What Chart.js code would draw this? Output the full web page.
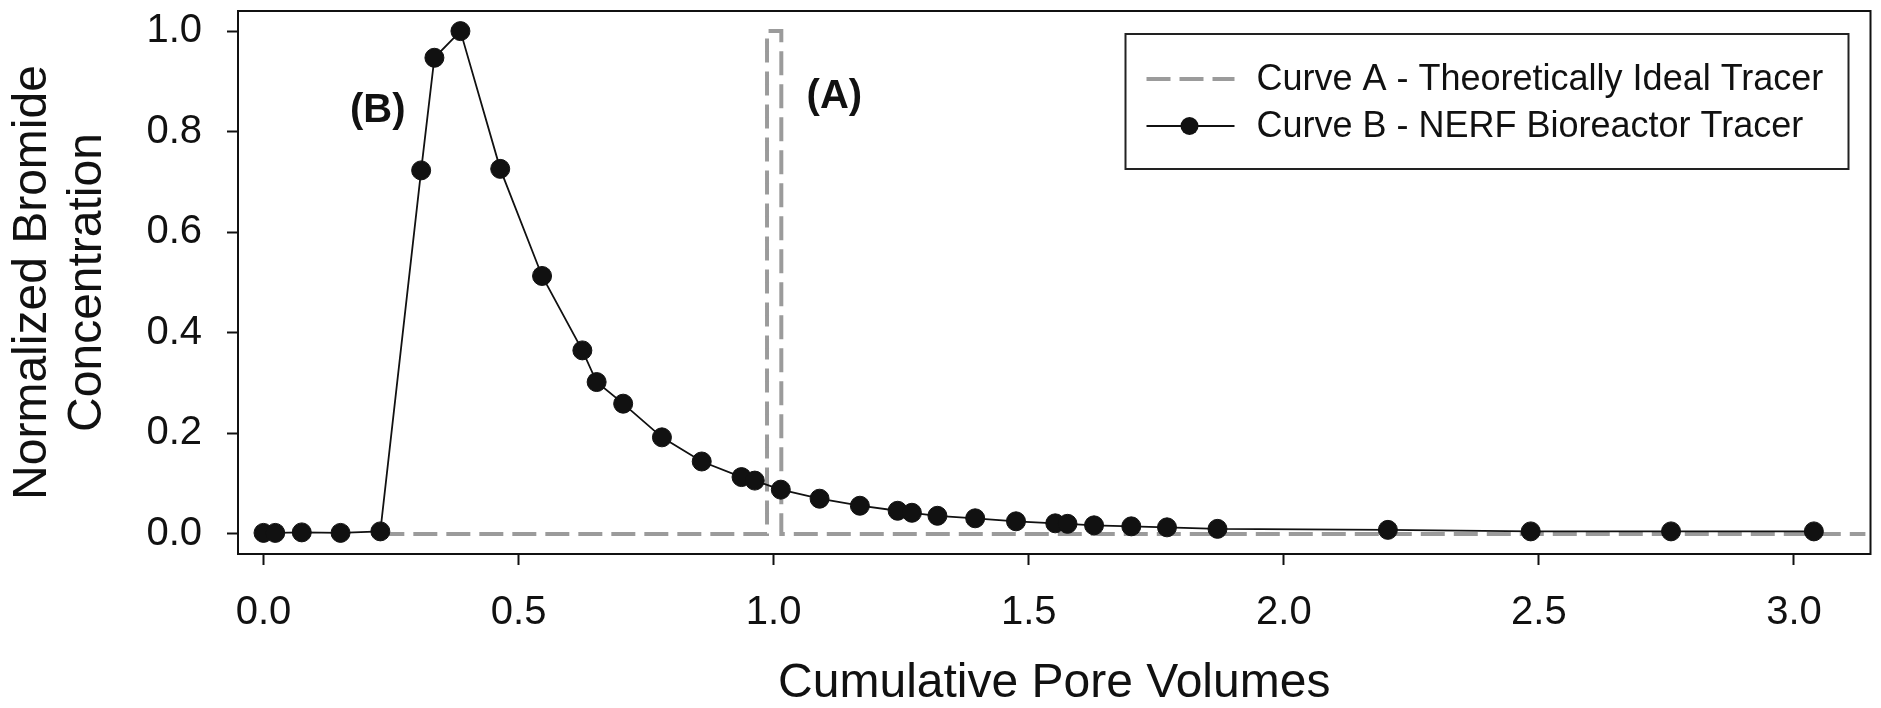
<!DOCTYPE html>
<html><head><meta charset="utf-8">
<script src="https://cdn.jsdelivr.net/npm/chart.js@4.4.1/dist/chart.umd.min.js"></script>
<style>html,body{margin:0;padding:0;background:#fff}#wrap{width:1881px;height:708px;position:relative}</style>
</head><body><div id="wrap"><canvas id="c"></canvas></div>
<script>
// ---- data ----
const curveALabel = 'Curve A - Theoretically Ideal Tracer';
const curveAX = [0.229, 0.987, 0.987, 1.015, 1.015, 3.14];
const curveAY = [0, 0, 1.0, 1.0, 0, 0];
const curveBLabel = 'Curve B - NERF Bioreactor Tracer';
const curveBX = [0.000, 0.023, 0.075, 0.151, 0.229, 0.309, 0.335, 0.386, 0.464, 0.546, 0.625, 0.653, 0.705, 0.781, 0.859, 0.937, 0.963, 1.014, 1.090, 1.169, 1.243, 1.271, 1.321, 1.395, 1.475, 1.552, 1.576, 1.628, 1.701, 1.771, 1.870, 2.204, 2.484, 2.759, 3.039];
const curveBY = [0.002, 0.002, 0.003, 0.002, 0.005, 0.723, 0.947, 1.000, 0.726, 0.513, 0.365, 0.302, 0.259, 0.192, 0.144, 0.113, 0.106, 0.088, 0.070, 0.056, 0.046, 0.042, 0.036, 0.031, 0.025, 0.021, 0.020, 0.017, 0.015, 0.013, 0.010, 0.008, 0.005, 0.005, 0.005];
const xTickValues = [0, 0.5, 1.0, 1.5, 2.0, 2.5, 3.0];
const xTickLabels = ['0.0', '0.5', '1.0', '1.5', '2.0', '2.5', '3.0'];
const yTickValues = [0, 0.2, 0.4, 0.6, 0.8, 1.0];
const yTickLabels = ['0.0', '0.2', '0.4', '0.6', '0.8', '1.0'];
const xTitle = 'Cumulative Pore Volumes';
const yTitle = ['Normalized Bromide', 'Concentration'];
const noteLabels = ['(A)', '(B)'];
const noteX = [1.119, 0.224];
const noteY = [0.870, 0.841];

const FONT = "'Liberation Sans', Arial, sans-serif";
const INK = '#111';
const GRAY = '#9b9b9b';

const frameAndNotes = {
  id: 'frameAndNotes',
  afterDatasetsDraw(chart) {
    const ctx = chart.ctx, a = chart.chartArea;
    const xs = chart.scales.x, ys = chart.scales.y;
    ctx.save();
    // frame
    ctx.strokeStyle = INK; ctx.lineWidth = 2;
    ctx.strokeRect(a.left, a.top, a.right - a.left, a.bottom - a.top);
    // annotations
    ctx.fillStyle = INK;
    ctx.font = 'bold 40px ' + FONT;
    ctx.textAlign = 'center'; ctx.textBaseline = 'middle';
    noteLabels.forEach((t, i) => ctx.fillText(t, xs.getPixelForValue(noteX[i]), ys.getPixelForValue(noteY[i])));
    // legend
    const bx = a.right - 22, by = a.top + 23, bw = 723, bh = 135;
    const L = bx - bw;
    ctx.fillStyle = '#fff';
    ctx.fillRect(L, by, bw, bh);
    ctx.strokeStyle = '#222'; ctx.lineWidth = 2;
    ctx.strokeRect(L, by, bw, bh);
    const ds = chart.data.datasets;
    const rows = [by + 45, by + 92];
    ds.forEach((d, i) => {
      const y = rows[i];
      ctx.save();
      ctx.strokeStyle = d.borderColor; ctx.lineWidth = d.borderWidth;
      ctx.setLineDash(d.borderDash || []);
      ctx.beginPath(); ctx.moveTo(L + 21, y); ctx.lineTo(L + 109, y); ctx.stroke();
      ctx.restore();
      if (d.pointRadius > 0) {
        ctx.fillStyle = d.pointBackgroundColor;
        ctx.beginPath(); ctx.arc(L + 64, y, 9, 0, Math.PI * 2); ctx.fill();
      }
      ctx.fillStyle = INK;
      ctx.font = '36px ' + FONT;
      ctx.textAlign = 'left'; ctx.textBaseline = 'middle';
      ctx.fillText(d.label, L + 131, y + 1);
    });
    ctx.restore();
  }
};

new Chart(document.getElementById('c'), {
  type: 'line',
  data: {
    datasets: [
      {
        label: curveALabel,
        data: curveAX.map((x, i) => ({x, y: curveAY[i]})),
        borderColor: GRAY, borderWidth: 4, borderDash: [24, 9],
        pointRadius: 0, fill: false, tension: 0, order: 2
      },
      {
        label: curveBLabel,
        data: curveBX.map((x, i) => ({x, y: curveBY[i]})),
        borderColor: INK, borderWidth: 1.8,
        pointRadius: 9.5, pointBackgroundColor: INK, pointBorderColor: INK, pointBorderWidth: 1,
        fill: false, tension: 0, order: 1
      }
    ]
  },
  options: {
    responsive: true, maintainAspectRatio: false, animation: false,
    layout: {padding: {left: 0, top: 11, right: 2, bottom: 0}},
    plugins: {legend: {display: false}, tooltip: {enabled: false}},
    scales: {
      x: {
        type: 'linear', min: -0.05, max: 3.15,
        afterBuildTicks: s => { s.ticks = xTickValues.map(v => ({value: v})); },
        afterFit: s => { s.height = 154; s.paddingLeft = 0; s.paddingRight = 0; },
        ticks: {
          callback: (v) => xTickLabels[xTickValues.indexOf(v)],
          font: {family: FONT, size: 40}, color: INK, padding: 24, maxRotation: 0, autoSkip: false
        },
        grid: {display: true, drawOnChartArea: false, drawTicks: true, tickLength: 11, tickColor: INK, tickWidth: 2},
        border: {display: true, color: INK, width: 2},
        title: {display: true, text: xTitle, font: {family: FONT, size: 48, lineHeight: 1.0}, color: INK, padding: {top: 0, bottom: 0}}
      },
      y: {
        type: 'linear', min: -0.04, max: 1.04,
        afterBuildTicks: s => { s.ticks = yTickValues.map(v => ({value: v})); },
        afterFit: s => { s.width = 238; s.paddingTop = 0; s.paddingBottom = 0; },
        ticks: {
          callback: (v) => yTickLabels[yTickValues.indexOf(v)],
          font: {family: FONT, size: 40}, color: INK, padding: 25, autoSkip: false
        },
        grid: {display: true, drawOnChartArea: false, drawTicks: true, tickLength: 11, tickColor: INK, tickWidth: 2},
        border: {display: true, color: INK, width: 2},
        title: {display: true, text: yTitle, font: {family: FONT, size: 48, lineHeight: 1.15}, color: INK, padding: {top: 5, bottom: 0}}
      }
    }
  },
  plugins: [frameAndNotes]
});
</script>
</body></html>
